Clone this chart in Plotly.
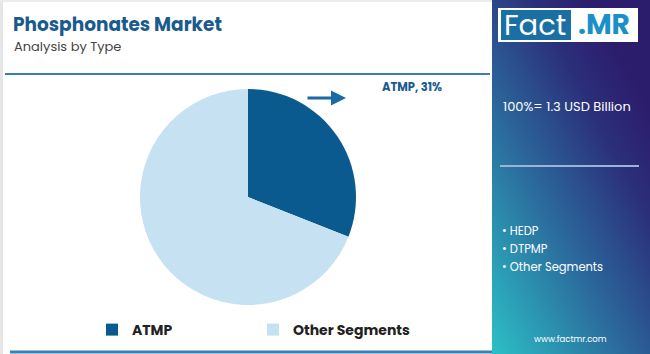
import base64
import plotly.graph_objects as go

# ---- data ----
labels = ["ATMP", "Other Segments"]
values = [31, 69]
colors = ["#0b5a8f", "#c6e1f2"]
total_label = "100%= 1.3 USD Billion"
other_items = ["HEDP", "DTPMP", "Other Segments"]
title = "Phosphonates Market"
subtitle = "Analysis by Type"

W, H = 650, 354

def px(x):
    return x / W

def py(y):
    return 1 - y / H

fig = go.Figure()
fig.add_trace(go.Pie(
    labels=labels, values=values, sort=False, direction="clockwise", rotation=0,
    marker=dict(colors=colors, line=dict(width=0)), textinfo="none", hoverinfo="label+percent",
    domain=dict(x=[px(140), px(356)], y=[py(305), py(89)]),
))

# gradient panel via svg image
svg = f'''<svg xmlns="http://www.w3.org/2000/svg" width="158" height="354" viewBox="0 0 158 354" preserveAspectRatio="none">
<defs><linearGradient id="g" x1="0" y1="1" x2="0.75" y2="0.1">
<stop offset="0" stop-color="#2cc0c6"/>
<stop offset="0.45" stop-color="#2b6b9d"/>
<stop offset="0.8" stop-color="#2b2f7a"/>
<stop offset="1" stop-color="#2c1c6c"/>
</linearGradient></defs>
<rect width="158" height="354" fill="url(#g)"/></svg>'''
src = "data:image/svg+xml;base64," + base64.b64encode(svg.encode()).decode()
fig.add_layout_image(dict(source=src, xref="paper", yref="paper", x=px(492), y=1,
                          sizex=px(158), sizey=1, xanchor="left", yanchor="top",
                          sizing="stretch", layer="below"))

shapes = [
    dict(type="rect", xref="paper", yref="paper", x0=0, x1=px(3), y0=0, y1=1,
         fillcolor="#e6e6e6", line=dict(width=0), layer="below"),
    dict(type="rect", xref="paper", yref="paper", x0=0, x1=px(492), y0=py(2), y1=1,
         fillcolor="#ececec", line=dict(width=0), layer="below"),
    dict(type="line", xref="paper", yref="paper", x0=px(5), x1=px(490), y0=py(74), y1=py(74),
         line=dict(color="#3a7fb2", width=2)),
    dict(type="line", xref="paper", yref="paper", x0=px(10), x1=px(492), y0=py(352), y1=py(352),
         line=dict(color="#3a7fb2", width=3)),
    # logo
    dict(type="rect", xref="paper", yref="paper", x0=px(498), x1=px(638), y0=py(42), y1=py(8),
         fillcolor="white", line=dict(width=0)),
    dict(type="rect", xref="paper", yref="paper", x0=px(501), x1=px(571), y0=py(40), y1=py(10),
         fillcolor="#1a6fa5", line=dict(width=0)),
    dict(type="line", xref="paper", yref="paper", x0=px(500), x1=px(639), y0=py(166), y1=py(166),
         line=dict(color="#9cb3d8", width=2)),
]

ann = [
    dict(text=f"<b>{title}</b>", x=px(11), y=py(24), xanchor="left", yanchor="middle",
         font=dict(size=18.5, color="#1a5b8e", family="Poppins, Lato, sans-serif")),
    dict(text=subtitle, x=px(12), y=py(46), xanchor="left", yanchor="middle",
         font=dict(size=13, color="#444444", family="Poppins, Lato, sans-serif")),
    dict(text=f"<b>{labels[0]}, {values[0]}%</b>", x=px(412), y=py(87), xanchor="center", yanchor="middle",
         font=dict(size=11.5, color="#1a5b8e", family="Poppins, Lato, sans-serif")),
    dict(text="", x=px(346), y=py(98), ax=-40, ay=0, showarrow=True, arrowhead=2,
         arrowsize=1, arrowwidth=3, arrowcolor="#1a6aa6"),
    dict(text="Fact", x=px(535), y=py(25), xanchor="center", yanchor="middle",
         font=dict(size=29, color="white", family="Poppins, Lato, sans-serif")),
    dict(text="<b>.MR</b>", x=px(604), y=py(25), xanchor="center", yanchor="middle",
         font=dict(size=28, color="#1b90c8", family="Poppins, Lato, sans-serif")),
    dict(text=total_label, x=px(501), y=py(107), xanchor="left", yanchor="middle",
         font=dict(size=13, color="white", family="Poppins, Lato, sans-serif")),
    dict(text="www.factmr.com", x=px(570), y=py(339), xanchor="center", yanchor="middle",
         font=dict(size=8.5, color="white", family="Poppins, Lato, sans-serif")),
]
for i, it in enumerate(other_items):
    ann.append(dict(text="• " + it, x=px(500), y=py(231 + 17.8 * i), xanchor="left", yanchor="middle",
                    font=dict(size=11.5, color="white", family="Poppins, Lato, sans-serif")))
for a in ann:
    a.setdefault("showarrow", False)
    a["xref"] = "paper"
    a["yref"] = "paper"

fig.update_layout(
    width=W, height=H, margin=dict(l=0, r=0, t=0, b=0),
    paper_bgcolor="white", plot_bgcolor="white",
    shapes=shapes, annotations=ann,
    showlegend=True,
    legend=dict(orientation="h", x=px(92), y=py(330), xanchor="left", yanchor="middle",
                entrywidth=116, traceorder="normal",
                font=dict(size=14, color="#222222", family="Poppins, Lato, sans-serif", weight="bold"),
                itemclick=False, bgcolor="rgba(0,0,0,0)"),
)
fig.write_html("out.html")
